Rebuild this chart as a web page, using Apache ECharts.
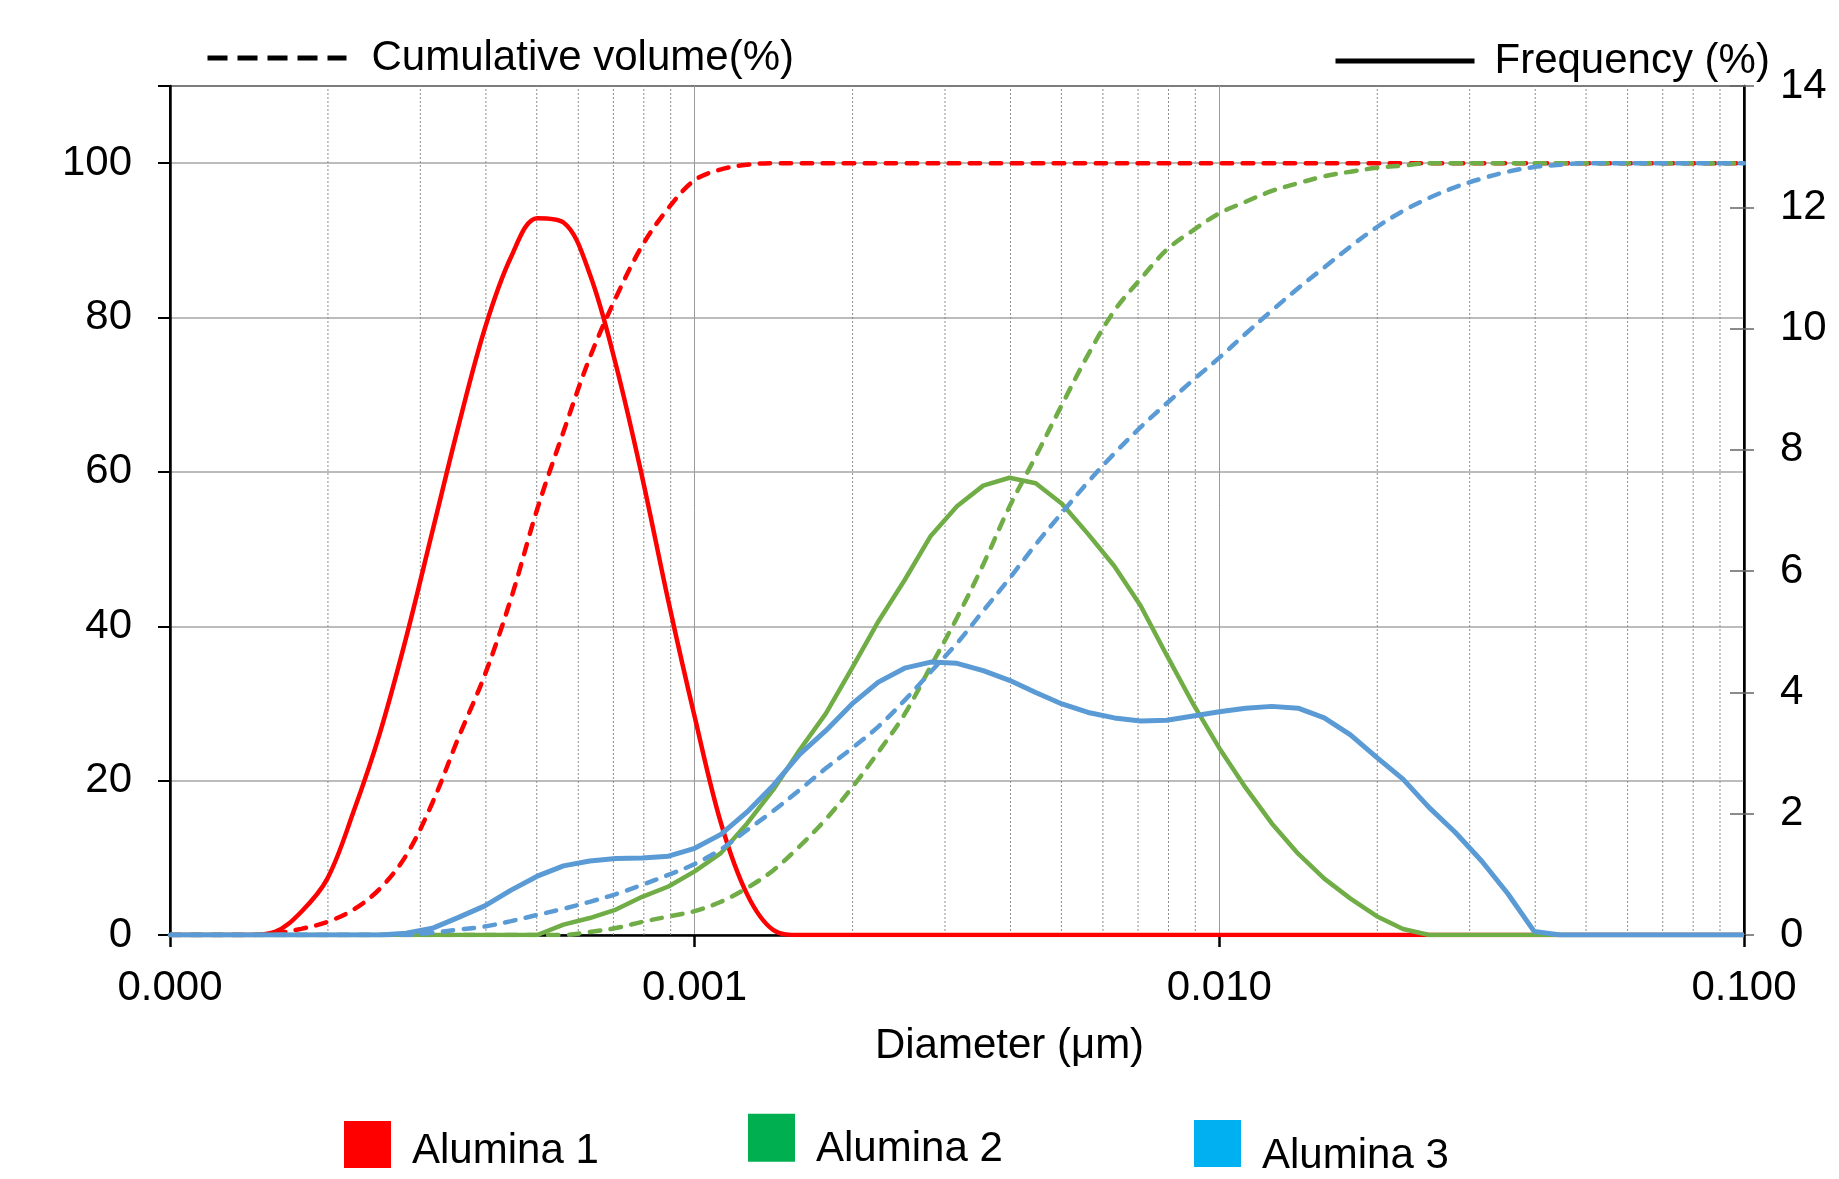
<!DOCTYPE html>
<html>
<head>
<meta charset="utf-8">
<title>Particle size distribution</title>
<style>
html,body{margin:0;padding:0;background:#fff;}
#main{width:1839px;height:1179px;}
</style>
<script src="https://cdn.jsdelivr.net/npm/echarts@6.0.0/dist/echarts.min.js"></script>
</head>
<body>
<div id="main"></div>
<script>
// size classes (um), 20 per decade
var diameters = [
    1.000e-4, 1.122e-4, 1.259e-4, 1.413e-4, 1.585e-4, 1.778e-4, 1.995e-4, 2.239e-4, 2.512e-4, 2.818e-4,
    3.162e-4, 3.548e-4, 3.981e-4, 4.467e-4, 5.012e-4, 5.623e-4, 6.310e-4, 7.079e-4, 7.943e-4, 8.913e-4,
    1.000e-3, 1.122e-3, 1.259e-3, 1.413e-3, 1.585e-3, 1.778e-3, 1.995e-3, 2.239e-3, 2.512e-3, 2.818e-3,
    3.162e-3, 3.548e-3, 3.981e-3, 4.467e-3, 5.012e-3, 5.623e-3, 6.310e-3, 7.079e-3, 7.943e-3, 8.913e-3,
    1.000e-2, 1.122e-2, 1.259e-2, 1.413e-2, 1.585e-2, 1.778e-2, 1.995e-2, 2.239e-2, 2.512e-2, 2.818e-2,
    3.162e-2, 3.548e-2, 3.981e-2, 4.467e-2, 5.012e-2, 5.623e-2, 6.310e-2, 7.079e-2, 7.943e-2, 8.913e-2,
    1.000e-1
];
// frequency (%) - right axis
var alumina1Freq = [
    0, 0, 0, 0, 0.05, 0.38, 0.93, 2.04, 3.33, 4.90,
    6.65, 8.40, 10.00, 11.18, 11.82, 11.75, 10.90, 9.40, 7.55, 5.50,
    3.60, 1.85, 0.67, 0.08, 0, 0, 0, 0, 0, 0,
    0, 0, 0, 0, 0, 0, 0, 0, 0, 0,
    0, 0, 0, 0, 0, 0, 0, 0, 0, 0,
    0, 0, 0, 0, 0, 0, 0, 0, 0, 0,
    0
];
var alumina2Freq = [
    0, 0, 0, 0, 0, 0, 0, 0, 0, 0,
    0, 0, 0, 0, 0, 0.17, 0.28, 0.42, 0.63, 0.80,
    1.05, 1.35, 1.84, 2.40, 3.05, 3.65, 4.40, 5.17, 5.85, 6.58,
    7.07, 7.41, 7.54, 7.45, 7.11, 6.61, 6.08, 5.43, 4.61, 3.81,
    3.08, 2.43, 1.84, 1.34, 0.93, 0.60, 0.31, 0.10, 0, 0,
    0, 0, 0, 0, 0, 0, 0, 0, 0, 0,
    0
];
var alumina3Freq = [
    0, 0, 0, 0, 0, 0, 0, 0, 0, 0.03,
    0.11, 0.29, 0.48, 0.74, 0.97, 1.14, 1.22, 1.26, 1.27, 1.30,
    1.43, 1.66, 2.03, 2.47, 2.98, 3.37, 3.81, 4.17, 4.40, 4.50,
    4.48, 4.36, 4.20, 4.00, 3.81, 3.67, 3.58, 3.53, 3.54, 3.61,
    3.68, 3.74, 3.77, 3.74, 3.58, 3.30, 2.93, 2.57, 2.10, 1.69,
    1.22, 0.68, 0.06, 0, 0, 0, 0, 0, 0, 0,
    0
];
// cumulative volume (%) - left axis
var alumina1Cum = [
    0, 0, 0, 0, 0.2, 0.8, 1.7, 3.3, 6.0, 10.3,
    17.1, 25.6, 33.7, 43.6, 55.2, 65.2, 74.8, 82.6, 89.3, 94.2,
    97.8, 99.2, 99.8, 100, 100, 100, 100, 100, 100, 100,
    100, 100, 100, 100, 100, 100, 100, 100, 100, 100,
    100, 100, 100, 100, 100, 100, 100, 100, 100, 100,
    100, 100, 100, 100, 100, 100, 100, 100, 100, 100,
    100
];
var alumina2Cum = [
    0, 0, 0, 0, 0, 0, 0, 0, 0, 0,
    0, 0, 0, 0, 0, 0, 0.4, 0.9, 1.7, 2.4,
    3.1, 4.3, 6.1, 8.4, 11.5, 15.0, 19.1, 23.7, 28.6, 34.8,
    41.1, 48.0, 55.5, 62.0, 68.7, 75.2, 80.9, 85.0, 88.8, 91.3,
    93.5, 95.0, 96.4, 97.4, 98.3, 98.9, 99.4, 99.7, 100, 100,
    100, 100, 100, 100, 100, 100, 100, 100, 100, 100,
    100
];
var alumina3Cum = [
    0, 0, 0, 0, 0, 0, 0, 0, 0, 0,
    0.3, 0.7, 1.1, 1.8, 2.6, 3.4, 4.3, 5.3, 6.5, 7.8,
    9.2, 11.1, 13.6, 16.1, 18.8, 21.6, 24.2, 27.0, 30.4, 34.1,
    37.8, 42.0, 46.2, 50.6, 54.7, 58.7, 62.4, 65.8, 68.9, 71.9,
    74.8, 77.9, 80.9, 83.8, 86.5, 89.2, 91.7, 93.8, 95.5, 96.9,
    98.0, 98.9, 99.5, 99.8, 100, 100, 100, 100, 100, 100,
    100
];
// minor vertical grid lines (2..9 x decade)
var minorTicks = [
    2e-4, 3e-4, 4e-4, 5e-4, 6e-4, 7e-4, 8e-4, 9e-4,
    2e-3, 3e-3, 4e-3, 5e-3, 6e-3, 7e-3, 8e-3, 9e-3,
    2e-2, 3e-2, 4e-2, 5e-2, 6e-2, 7e-2, 8e-2, 9e-2
];
var sampleNames = ['Alumina 1', 'Alumina 2', 'Alumina 3'];

var FONT = '"Liberation Sans", Arial, sans-serif';
var lineColors = ['#FF0000', '#70AD47', '#5B9BD5'];
var legendColors = ['#FF0000', '#00B050', '#00B0F0'];

function pairs(values){
    return diameters.map(function(d, i){ return [d, values[i]]; });
}

var chart = echarts.init(document.getElementById('main'));

var series = [];
// minor grid: a thin dashed line from 0 to the top at each 2..9 position
minorTicks.forEach(function(v){
    series.push({
        type: 'line', data: [[v, 0], [v, 110]], yAxisIndex: 0,
        symbol: 'none', silent: true, z: 1,
        lineStyle: {color: '#8c8c8c', width: 1, type: [2, 2]}
    });
});
var freqs = [alumina1Freq, alumina2Freq, alumina3Freq];
var cums = [alumina1Cum, alumina2Cum, alumina3Cum];
for (var k = 0; k < 3; k++){
    series.push({
        name: sampleNames[k] + ' freq', type: 'line', yAxisIndex: 1,
        data: pairs(freqs[k]), showSymbol: false, symbol: 'none',
        smooth: k === 0 ? 0.35 : false,
        lineStyle: {color: lineColors[k], width: k === 2 ? 5 : 4.5},
        z: 3 + k * 2
    });
    series.push({
        name: sampleNames[k] + ' cum', type: 'line', yAxisIndex: 0,
        data: pairs(cums[k]), showSymbol: false, symbol: 'none',
        smooth: 0.35,
        lineStyle: {color: lineColors[k], width: 4.5, type: [10.5, 10.5], cap: 'round'},
        z: 4 + k * 2
    });
}
// legend-only series
series.push({name: 'Cumulative volume(%)', type: 'line', data: [], symbol: 'none',
    itemStyle: {color: '#000'}, lineStyle: {color: '#000', width: 5, type: [20, 10]}});
series.push({name: 'Frequency (%)', type: 'line', data: [], symbol: 'none',
    itemStyle: {color: '#000'}, lineStyle: {color: '#000', width: 5}});
sampleNames.forEach(function(n, i){
    series.push({name: n, type: 'line', data: [], symbol: 'none',
        itemStyle: {color: legendColors[i]}, lineStyle: {color: legendColors[i]}});
});

function legendAt(name, left, top, w, h, padLeft, icon, lineType){
    var l = {
        data: [name], left: left, top: top, itemWidth: w, itemHeight: h,
        selectedMode: false, padding: 0,
        textStyle: {fontSize: 42, color: '#000', fontFamily: FONT, padding: [0, 0, 0, padLeft]}
    };
    if (icon) l.icon = icon;
    if (lineType) l.lineStyle = {color: '#000', width: 5, type: lineType};
    return l;
}
// sample legends: label sits a little below the middle of its square
function sampleLegend(name, left, top, h, drop){
    var l = legendAt(name, left, top, 47, h, 16, 'rect');
    l.formatter = function(n){ return '\n' + n; };
    l.textStyle.lineHeight = drop * 2;
    return l;
}

chart.setOption({
    animation: false,
    backgroundColor: '#fff',
    textStyle: {fontFamily: FONT},
    grid: {left: 170, right: 95, top: 86, bottom: 244, show: true, borderColor: '#000', borderWidth: 2},
    legend: [
        legendAt('Cumulative volume(%)', 205, 37, 139, 4, 20, null, [20, 10]),
        legendAt('Frequency (%)', 1333, 40, 139, 4, 15, null, 'solid'),
        sampleLegend('Alumina 1', 344, 1116.5, 47, 7),
        sampleLegend('Alumina 2', 748, 1105, 48, 11.7),
        sampleLegend('Alumina 3', 1194, 1109.5, 47, 13)
    ],
    xAxis: {
        type: 'log', logBase: 10, min: 0.0001, max: 0.1,
        name: 'Diameter (μm)', nameLocation: 'middle', nameGap: 90,
        nameTextStyle: {fontSize: 42, color: '#000', fontFamily: FONT, padding: [0, 0, 0, 105]},
        axisLine: {show: true, onZero: false, lineStyle: {color: '#000', width: 2.5}},
        axisTick: {show: true, length: 12, lineStyle: {color: '#000', width: 2.5}},
        axisLabel: {fontSize: 42, color: '#000', fontFamily: FONT, margin: 32,
            formatter: function(v){ return v.toFixed(3); }},
        splitLine: {show: true, lineStyle: {color: '#9a9a9a', width: 1}}
    },
    yAxis: [{
        type: 'value', min: 0, max: 110, interval: 20, position: 'left',
        axisLine: {show: true, lineStyle: {color: '#000', width: 2.5}},
        axisTick: {show: true, length: 12, lineStyle: {color: '#000', width: 2}},
        axisLabel: {fontSize: 42, color: '#000', fontFamily: FONT, margin: 38,
            formatter: function(v){ return v > 100 ? '' : v; }},
        splitLine: {show: true, lineStyle: {color: '#a6a6a6', width: 1.5}}
    }, {
        type: 'value', min: 0, max: 14, interval: 2, position: 'right',
        axisLine: {show: true, lineStyle: {color: '#000', width: 2.5}},
        axisTick: {show: true, length: 10, lineStyle: {color: '#666', width: 1.5}},
        axisLabel: {fontSize: 42, color: '#000', fontFamily: FONT, margin: 36},
        splitLine: {show: false}
    }, {
        // inner half of the right-hand cross ticks
        type: 'value', min: 0, max: 14, interval: 2, position: 'right',
        axisLine: {show: false},
        axisTick: {show: true, inside: true, length: 14, lineStyle: {color: '#666', width: 1.5}},
        axisLabel: {show: false},
        splitLine: {show: false}
    }],
    series: series
});
</script>
</body>
</html>
